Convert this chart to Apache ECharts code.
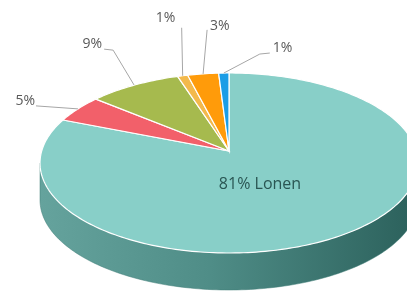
<!DOCTYPE html>
<html>
<head>
<meta charset="utf-8">
<script src="https://cdn.jsdelivr.net/npm/echarts@6/dist/echarts.min.js"></script>
<style>
html,body{margin:0;padding:0;background:#fff}
#chart{width:407px;height:295px}
</style>
</head>
<body>
<div id="chart"></div>
<script>
// slices, clockwise from 12 o'clock
var names=['Lonen','Overig 1','Overig 2','Overig 3','Overig 4','Overig 5'];
var values=[81,5,9,1,3,1];
var colors=['#88cfc8','#f2606a','#a6ba4e','#f3b94c','#ff9b0a','#1b9de6'];

// label placement, relative to the rim point at the slice middle (leader bend points + text anchor)
var labelLayout=[
  {inside:true, text:[31,33]},
  {pts:[[-42,-3]], text:[-43,-8], align:'right'},
  {pts:[[-21,-35],[-30,-36]], text:[-32,-41], align:'right'},
  {pts:[[-1,-48]], text:[-17,-58], align:'center'},
  {pts:[[4,-44]], text:[7,-48], align:'left'},
  {pts:[[36,-19],[46,-20]], text:[49,-25], align:'left'}
];

// pie geometry (perspective ellipse)
var cx=229, cy=163, rx=189, ry=90, depth=37, tilt=-0.133;
var total=values.reduce(function(s,v){return s+v},0);
var starts=[];
(function(){
  var acc=0;
  values.forEach(function(v){
    starts.push(-Math.PI/2+acc/total*Math.PI*2);
    acc+=v;
  });
})();

// circle point (r, t) -> screen
function proj(t,r){
  if(r==null) r=1;
  var X=r*Math.cos(t), Y=r*Math.sin(t);
  var s=Math.sqrt(1-tilt*tilt);
  var d=1+tilt*Y;
  return [cx+rx*X*s/d, cy+ry*(Y+tilt)/d];
}
function arc(t0,t1){
  var n=Math.max(2,Math.ceil(Math.abs(t1-t0)/0.02));
  var pts=[];
  for(var i=0;i<=n;i++){
    pts.push(proj(t0+(t1-t0)*i/n));
  }
  return pts;
}

var frontA=Math.asin(-tilt), frontB=Math.PI-Math.asin(-tilt);

var chart=echarts.init(document.getElementById('chart'));
chart.setOption({
  animation:false,
  series:[
    {
      // side wall
      type:'custom',
      coordinateSystem:'none',
      z:1,
      silent:true,
      data:values,
      renderItem:function(params,api){
        var i=params.dataIndex;
        var t0=starts[i], t1=t0+api.value(0)/total*Math.PI*2;
        var a=Math.max(t0,frontA), b=Math.min(t1,frontB);
        if(b<=a) return {type:'group',children:[]};
        var top=arc(a,b);
        var bottom=top.map(function(p){return [p[0],p[1]+depth]}).reverse();
        return {
          type:'polygon',
          shape:{points:top.concat(bottom)},
          style:{
            fill:new echarts.graphic.LinearGradient(0,0,1,0,[
              {offset:0,color:'#65a39d'},
              {offset:0.45,color:'#4f8d87'},
              {offset:1,color:'#2b605b'}
            ]),
            stroke:'#3f7c76',
            lineWidth:0.5
          }
        };
      }
    },
    {
      // top face + labels
      type:'custom',
      coordinateSystem:'none',
      z:2,
      silent:true,
      data:values,
      renderItem:function(params,api){
        var i=params.dataIndex;
        var v=api.value(0);
        var t0=starts[i], t1=t0+v/total*Math.PI*2;
        var apex=proj(0,0);
        var pts=[apex].concat(arc(t0,t1));
        var children=[{
          type:'polygon',
          shape:{points:pts},
          style:{fill:colors[i],stroke:'#ffffff',lineWidth:1.2}
        }];
        var lay=labelLayout[i];
        var pct=Math.round(v/total*100)+'%';
        if(lay.inside){
          children.push({
            type:'text',
            style:{
              x:apex[0]+lay.text[0], y:apex[1]+lay.text[1],
              text:pct+' '+names[i],
              fill:'#2a5653', fontSize:16, fontFamily:'Open Sans',
              align:'center', verticalAlign:'middle'
            }
          });
        }else{
          var m=proj((t0+t1)/2);
          var line=[m].concat(lay.pts.map(function(d){return [m[0]+d[0],m[1]+d[1]]}));
          children.push({
            type:'polyline',
            shape:{points:line},
            style:{stroke:'#a6a6a6',lineWidth:1,fill:null}
          });
          children.push({
            type:'text',
            style:{
              x:m[0]+lay.text[0], y:m[1]+lay.text[1],
              text:pct,
              fill:'#595959', fontSize:14, fontFamily:'Open Sans',
              align:lay.align, verticalAlign:'middle'
            }
          });
        }
        return {type:'group',children:children};
      }
    }
  ]
});
</script>
</body>
</html>
